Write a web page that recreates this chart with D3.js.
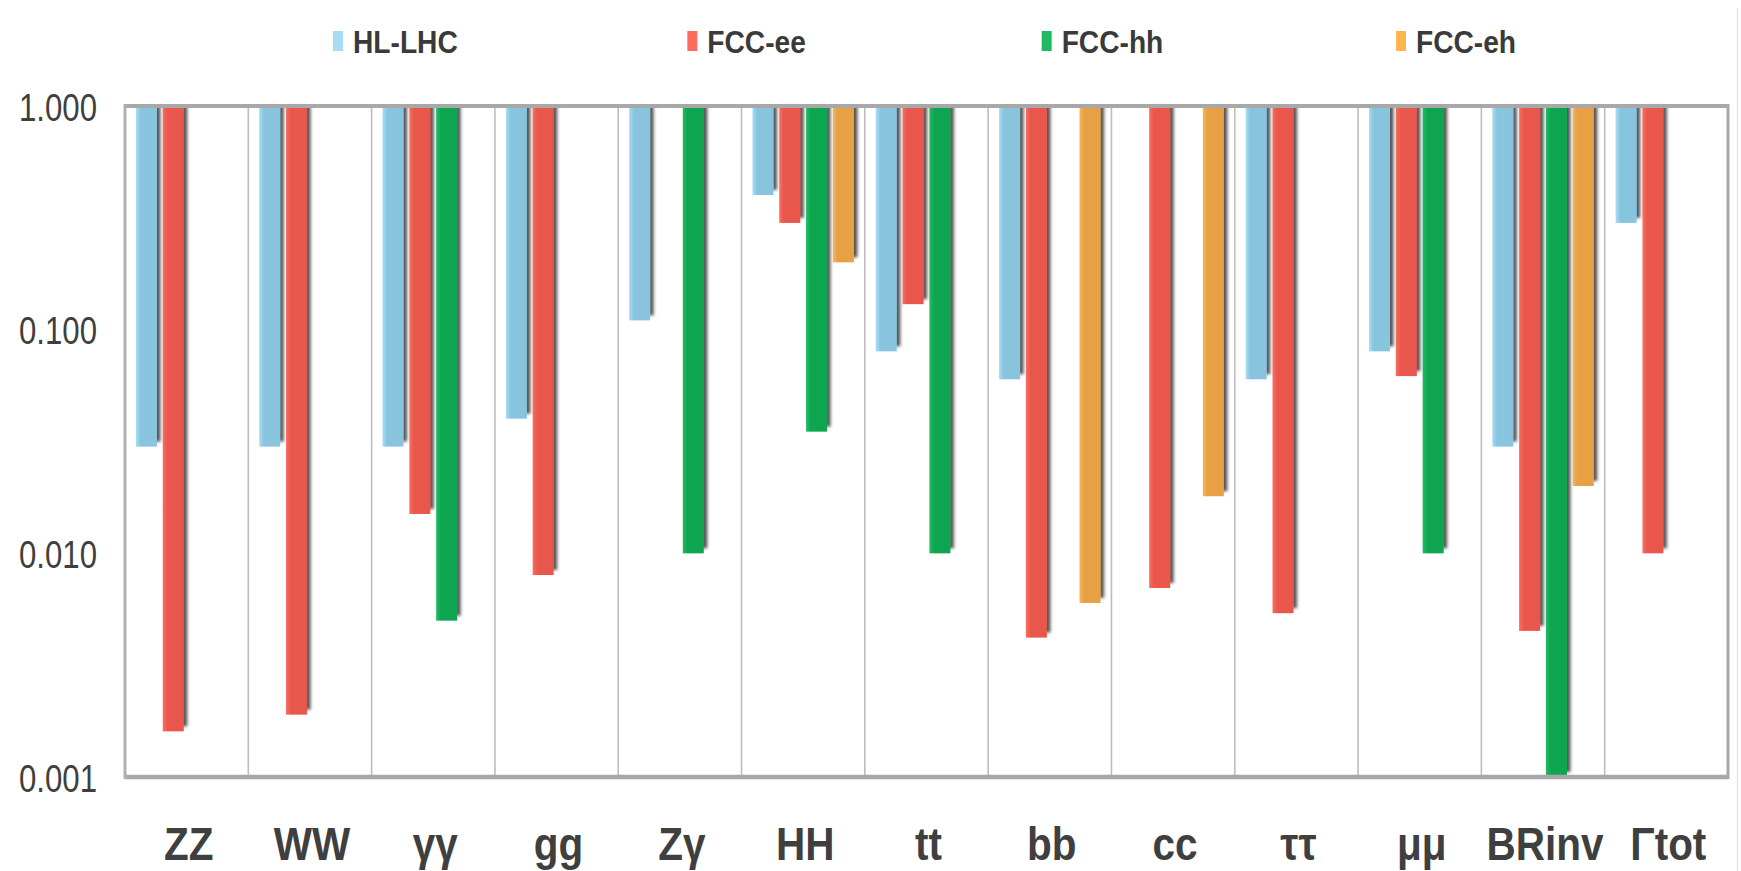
<!DOCTYPE html>
<html>
<head>
<meta charset="utf-8">
<script src="https://cdn.jsdelivr.net/npm/d3@7"></script>
<style>
  html, body { margin: 0; padding: 0; background: #fff; }
  svg { display: block; }
</style>
</head>
<body>
<svg id="chart" width="1741" height="871"></svg>
<script>
// Relative precision per Higgs coupling / observable (log scale, bars hang from 1.0)
const categories = ["ZZ", "WW", "γγ", "gg", "Zγ", "HH", "tt", "bb", "cc", "ττ", "μμ", "BRinv", "Γtot"];
const seriesNames = ["HL-LHC", "FCC-ee", "FCC-hh", "FCC-eh"];
const hlLhc = [0.030, 0.030, 0.030, 0.040, 0.110, 0.400, 0.080, 0.060, null, 0.060, 0.080, 0.030, 0.300];
const fccEe = [0.0016, 0.0019, 0.015, 0.008, null, 0.300, 0.130, 0.0042, 0.0070, 0.0054, 0.062, 0.0045, 0.010];
const fccHh = [null, null, 0.005, null, 0.010, 0.035, 0.010, null, null, null, 0.010, 0.001, null];
const fccEh = [null, null, null, null, null, 0.200, null, 0.006, 0.018, null, null, 0.020, null];
const yTicks = [1, 0.1, 0.01, 0.001];

const seriesValues = [hlLhc, fccEe, fccHh, fccEh];
const barColors = ["#89c4df", "#e9574b", "#10a550", "#e8a045"];
const edgeColors = ["#a8def5", "#fb6d60", "#1fbd62", "#f8b658"];
const swatchColors = ["#a6dcf6", "#ff6a5c", "#20b862", "#ffb550"];

const svg = d3.select("#chart");
const plot = { left: 125, right: 1728, top: 106, bottom: 777 };

const x = d3.scaleBand().domain(categories).range([plot.left, plot.right]).padding(0);
const xs = d3.scaleBand().domain(seriesNames).range([0, x.bandwidth()])
  .paddingInner(0.216).paddingOuter(0.407);
const y = d3.scaleLog().domain([1, 0.001]).range([plot.top, plot.bottom]);

const defs = svg.append("defs");
defs.append("clipPath").attr("id", "plotClip")
  .append("rect")
  .attr("x", plot.left).attr("y", plot.top)
  .attr("width", plot.right - plot.left).attr("height", plot.bottom - plot.top);

const shadow = defs.append("filter").attr("id", "barShadow")
  .attr("x", "-50%").attr("y", "-10%").attr("width", "200%").attr("height", "120%");
shadow.append("feDropShadow")
  .attr("dx", 3.5).attr("dy", -5).attr("stdDeviation", 1.6)
  .attr("flood-color", "#2a2a2a").attr("flood-opacity", 0.8);

seriesNames.forEach((s, i) => {
  const g = defs.append("linearGradient").attr("id", "grad" + i)
    .attr("x1", "0").attr("x2", "1").attr("y1", "0").attr("y2", "0");
  g.append("stop").attr("offset", "0%").attr("stop-color", edgeColors[i]);
  g.append("stop").attr("offset", "22%").attr("stop-color", barColors[i]);
  g.append("stop").attr("offset", "100%").attr("stop-color", barColors[i]);
});

// light outer container edge
svg.append("line")
  .attr("x1", 1737.5).attr("x2", 1737.5).attr("y1", 8).attr("y2", 871)
  .attr("stroke", "#e2e2e2").attr("stroke-width", 1.5);

// category separators
svg.append("g").selectAll("line")
  .data(categories.slice(1))
  .join("line")
  .attr("x1", d => x(d)).attr("x2", d => x(d))
  .attr("y1", plot.top).attr("y2", plot.bottom)
  .attr("stroke", "#bdbdbd").attr("stroke-width", 1.6);

// bars
const rows = [];
categories.forEach((c, ci) => {
  seriesNames.forEach((s, si) => {
    const v = seriesValues[si][ci];
    if (v != null) rows.push({ c, s, si, v });
  });
});

svg.append("g").attr("clip-path", "url(#plotClip)")
  .selectAll("rect")
  .data(rows)
  .join("rect")
  .attr("x", d => x(d.c) + xs(d.s))
  .attr("y", y(1))
  .attr("width", xs.bandwidth())
  .attr("height", d => y(d.v) - y(1))
  .attr("fill", d => "url(#grad" + d.si + ")")
  .attr("filter", "url(#barShadow)");

// plot frame
svg.append("line").attr("x1", plot.left).attr("x2", plot.right)
  .attr("y1", plot.top).attr("y2", plot.top)
  .attr("stroke", "#a8a8a8").attr("stroke-width", 4);
svg.append("line").attr("x1", plot.left).attr("x2", plot.right)
  .attr("y1", plot.bottom).attr("y2", plot.bottom)
  .attr("stroke", "#a8a8a8").attr("stroke-width", 4.5);
svg.append("line").attr("x1", plot.left).attr("x2", plot.left)
  .attr("y1", plot.top - 2).attr("y2", plot.bottom + 2)
  .attr("stroke", "#b0b0b0").attr("stroke-width", 3);
svg.append("line").attr("x1", plot.right).attr("x2", plot.right)
  .attr("y1", plot.top - 2).attr("y2", plot.bottom + 2)
  .attr("stroke", "#a8a8a8").attr("stroke-width", 3);

const font = "'Liberation Sans', Arial, sans-serif";

// y axis (tick labels horizontally condensed)
const yAxis = svg.append("g")
  .attr("transform", `translate(${plot.left - 28},0)`)
  .call(d3.axisLeft(y).tickValues(yTicks).tickFormat(d3.format(".3f")).tickSize(0).tickPadding(0));
yAxis.select(".domain").remove();
yAxis.selectAll("text")
  .attr("font-family", font)
  .attr("font-size", 39)
  .attr("fill", "#3f3f3f")
  .attr("x", 0)
  .attr("dy", "0.36em")
  .attr("transform", "scale(0.8,1)");

// x axis
const xAxis = svg.append("g")
  .attr("transform", `translate(0,${plot.bottom})`)
  .call(d3.axisBottom(x).tickSize(0).tickPadding(0));
xAxis.select(".domain").remove();
xAxis.selectAll("text")
  .attr("font-family", font)
  .attr("font-size", 46)
  .attr("font-weight", "bold")
  .attr("fill", "#3f3f3f")
  .attr("dy", null)
  .attr("y", 0)
  .attr("transform", "translate(2,83) scale(0.88,1)");

// legend
const legendX = d3.scalePoint().domain(seriesNames).range([333, 1396]);
const legend = svg.append("g").selectAll("g")
  .data(seriesNames)
  .join("g")
  .attr("transform", d => `translate(${legendX(d)},0)`);
legend.append("rect")
  .attr("x", 0).attr("y", 31).attr("width", 10).attr("height", 20)
  .attr("fill", (d, i) => swatchColors[i]);
legend.append("text")
  .attr("transform", "translate(20,53) scale(0.88,1)")
  .attr("font-family", font)
  .attr("font-size", 32)
  .attr("font-weight", "bold")
  .attr("fill", "#3a3a3a")
  .text(d => d);
</script>
</body>
</html>
